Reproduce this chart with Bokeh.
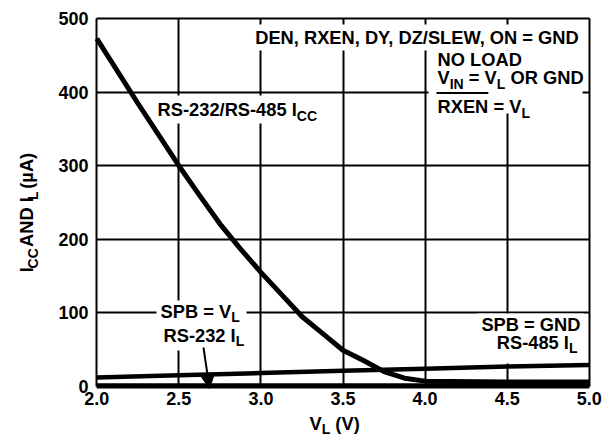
import math
from bokeh.plotting import figure
from bokeh.layouts import row, column
from bokeh.models import (Range1d, FixedTicker, Label, BoxAnnotation, Arrow,
                          NormalHead, PrintfTickFormatter)
from bokeh.embed import file_html
from bokeh.resources import INLINE

# ---------------- data ----------------
vl_icc = [2.0, 2.25, 2.5, 2.625, 2.75, 2.875, 3.0, 3.125, 3.25, 3.375, 3.5,
          3.625, 3.75, 3.875, 4.0, 4.5, 5.0]
icc = [473, 385, 300, 260, 221, 187, 155, 125, 95, 72, 49,
       35, 20, 11, 7, 6, 6]
vl_485 = [2.0, 2.5, 3.0, 3.5, 4.0, 4.5, 5.0]
il_485 = [12, 15, 18, 21, 24, 27, 29]
vl_232 = [2.0, 5.0]
il_232 = [0, 0]
x_ticks = [2.0, 2.5, 3.0, 3.5, 4.0, 4.5, 5.0]
y_ticks = [0, 100, 200, 300, 400, 500]

# ---------------- layout ----------------
FONT = "Liberation Sans"
TOT_W, TOT_H = 608, 437
YT_W = 44            # width of the strip holding the y-axis title
XT_H = 25            # height of the strip holding the x-axis title
MW, MH = TOT_W - YT_W, TOT_H - XT_H
X0, X1 = 1.98, 5.02
Y0, Y1 = -3, 503
FL, FR, FT, FB = 93, 592, 16, 388     # frame edges in page pixels
K = 0.3465                            # text-box centre above the baseline, in em


def dx(ix):
    return X0 + (ix - FL) * (X1 - X0) / (FR - FL)


def dy(iy):
    return Y1 - (iy - FT) * (Y1 - Y0) / (FB - FT)


ARIAL_B = {' ': 278, '(': 333, ')': 333, ',': 278, '-': 333, '.': 278, '/': 278,
           '=': 584, 'A': 722, 'B': 722, 'C': 722, 'D': 722, 'E': 667, 'G': 778,
           'I': 278, 'L': 611, 'N': 722, 'O': 778, 'P': 667, 'R': 722, 'S': 667,
           'V': 667, 'W': 944, 'X': 667, 'Y': 667, 'Z': 611, '\u00b5': 611}
for d in "0123456789":
    ARIAL_B[d] = 556


def tw(t, size):
    return sum(ARIAL_B.get(c, 600) for c in t) * size / 1000.0


p = figure(width=MW, height=MH, output_backend="svg", toolbar_location=None,
           title=None,
           x_range=Range1d(X0, X1), y_range=Range1d(Y0, Y1),
           min_border_left=FL - YT_W, min_border_right=TOT_W - FR,
           min_border_top=FT, min_border_bottom=MH - FB)
p.outline_line_color = None
p.background_fill_color = "white"
p.border_fill_color = "white"

p.xaxis.ticker = FixedTicker(ticks=x_ticks)
p.yaxis.ticker = FixedTicker(ticks=y_ticks)
p.xaxis.formatter = PrintfTickFormatter(format="%.1f")
for ax in (p.xaxis, p.yaxis):
    ax.major_tick_in = 0
    ax.major_tick_out = 0
    ax.minor_tick_in = 0
    ax.minor_tick_out = 0
    ax.axis_line_color = None
    ax.major_label_text_font = FONT
    ax.major_label_text_font_style = "bold"
    ax.major_label_text_font_size = "18px"
    ax.major_label_text_color = "black"
p.xaxis.major_label_standoff = 3
p.yaxis.major_label_standoff = 5

for g in (p.xgrid, p.ygrid):
    g.grid_line_color = "black"
    g.grid_line_width = 2
    g.grid_line_alpha = 1.0
p.xgrid.cross_bounds = (0, 500)
p.ygrid.cross_bounds = (2.0, 5.0)


def white_box(l, r, t, b):
    p.add_layout(BoxAnnotation(left=dx(l), right=dx(r), top=dy(t), bottom=dy(b),
                               fill_color="white", fill_alpha=1.0,
                               line_color=None, level="underlay"))


white_box(250, 587, 24, 50)
white_box(428, 582, 50, 113)
white_box(153, 330, 95, 123)
white_box(156, 246, 300, 350)
white_box(477, 583, 313, 363)

# curves
p.line(vl_232, il_232, line_color="black", line_width=6)
p.line(vl_485, il_485, line_color="black", line_width=4.5)
p.line(vl_icc, icc, line_color="black", line_width=5, line_join="round")


def run(fig, conv, parts, ix, iy, size=18.3, sub=14, drop=5, align="left", angle=0.0):
    """Place a run of text (with subscripts); (ix, iy) = start of the baseline in page px."""
    cx, cy = conv
    widths = [tw(t, sub if s else size) for t, s in parts]
    total = sum(widths)
    if align == "right":
        ix -= total
    pos = 0.0
    for (t, s), w in zip(parts, widths):
        fs = sub if s else size
        lead = tw(t[:len(t) - len(t.lstrip(' '))], fs)
        txt = t.strip()
        if txt:
            along = pos + lead + tw(txt, fs) / 2.0          # centre along the text
            across = (drop if s else 0) - K * fs            # centre across the text
            if angle == 0:
                x, y = ix + along, iy + across
            else:
                x, y = ix + across, iy - along
            fig.add_layout(Label(x=cx(x), y=cy(y), text=txt, text_font=FONT,
                                 text_font_size=f"{fs}px",
                                 text_font_style="bold", text_color="black",
                                 text_baseline="middle", text_align="center",
                                 angle=angle))
        pos += w
    return ix, total


M = (dx, dy)
run(p, M, [("DEN, RXEN, DY, DZ/SLEW, ON = GND", False)], 253, 43)
run(p, M, [("NO LOAD", False)], 437, 65)
run(p, M, [("V", False), ("IN", True), (" = V", False), ("L", True), (" OR GND", False)], 437, 83)
run(p, M, [("RXEN", False), (" = V", False), ("L", True)], 437, 112)
w_rx = tw("RXEN", 18.3)
p.add_layout(BoxAnnotation(left=dx(436), right=dx(437 + w_rx), top=dy(91.5), bottom=dy(93.5),
                           fill_color="black", fill_alpha=1.0, line_color=None))
run(p, M, [("RS-232/RS-485 I", False), ("CC", True)], 157, 115)
run(p, M, [("SPB = V", False), ("L", True)], 160, 317, drop=4)
run(p, M, [("RS-232 I", False), ("L", True)], 163, 341, drop=4)
run(p, M, [("SPB = GND", False)], 580, 330, align="right")
run(p, M, [("RS-485 I", False), ("L", True)], 577, 348, drop=4, align="right")

p.add_layout(Arrow(end=NormalHead(size=14, fill_color="black", line_color="black"),
                   x_start=dx(203), y_start=dy(347), x_end=dx(209), y_end=dy(388),
                   line_color="black", line_width=2))

# ---------------- y-axis title strip ----------------
yt = figure(width=YT_W, height=MH, output_backend="svg", toolbar_location=None,
            title=None, x_range=Range1d(0, YT_W), y_range=Range1d(0, MH),
            x_axis_type=None, y_axis_type=None, min_border=0)
yt.outline_line_color = None
yt.grid.visible = False
run(yt, (lambda ix: ix, lambda iy: MH - iy),
    [("I", False), ("CC", True), (" AND I", False), ("L", True), (" (\u00b5A)", False)],
    32, 283, drop=5, angle=math.pi / 2)

# ---------------- x-axis title strip ----------------
xt = figure(width=TOT_W, height=XT_H, output_backend="svg", toolbar_location=None,
            title=None, x_range=Range1d(0, TOT_W), y_range=Range1d(0, XT_H),
            x_axis_type=None, y_axis_type=None, min_border=0)
xt.outline_line_color = None
xt.grid.visible = False
run(xt, (lambda ix: ix, lambda iy: TOT_H - iy),
    [("V", False), ("L", True), (" (V)", False)], 309, 429, drop=4)

layout = column(row(yt, p), xt)
open("out.html", "w").write(file_html(layout, INLINE))
